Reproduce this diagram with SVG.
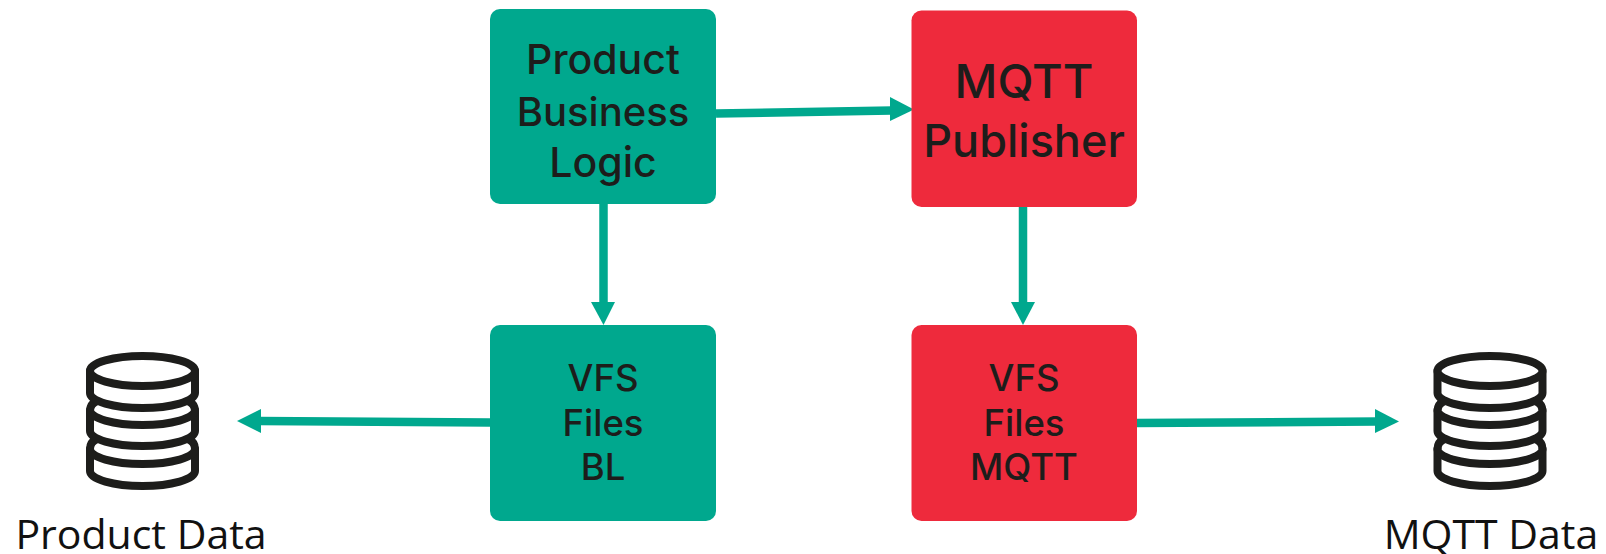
<svg xmlns="http://www.w3.org/2000/svg" width="1606" height="554" viewBox="0 0 1606 554">
<style>
.g{fill:#00a88e}.r{fill:#ee2a3c}
.t{font-family:"Inter","Noto Sans",sans-serif;font-weight:500;fill:#1d1d1b;text-anchor:middle}
.m{font-size:36.5px}
.l{font-family:"Open Sans","Noto Sans",sans-serif;font-size:41px;fill:#111;text-anchor:middle}
.c{stroke:#00a88e;stroke-width:8.5;fill:none}
.a{fill:#00a88e}
.d{fill:#fff;stroke:#1d1d1b;stroke-width:8;stroke-linecap:round;stroke-linejoin:round}
</style>
<defs>
<g id="db">
<path class="d" d="M-45.500 439Q-52.500 442-52.500 449V471A52.500 15 0 0 0 52.500 471V449Q52.500 442 45.500 439Z"/>
<path class="d" d="M-52.500 449A52.500 15 0 0 0 52.500 449"/>
<path class="d" d="M-45.500 401Q-52.500 404-52.500 411V431A52.500 15 0 0 0 52.500 431V411Q52.500 404 45.500 401Z"/>
<path class="d" d="M-52.500 410A52.500 15 0 0 0 52.500 410"/>
<path class="d" d="M-52.500 371V393A52.500 15 0 0 0 52.500 393V371Z"/>
<ellipse class="d" cx="0" cy="371" rx="52.500" ry="15"/>
</g>
</defs>
<g id="connectors">
<path class="c" d="M716 113.500L892 110.500"/><polygon class="a" points="890,97 914,109.500 890,121"/>
<path class="c" d="M603.500 204V304"/><polygon class="a" points="591,302 615,302 603.500,325"/>
<path class="c" d="M1023 206V304"/><polygon class="a" points="1011,302 1035,302 1023,325"/>
<path class="c" d="M490 422.500L259 421"/><polygon class="a" points="261,409 237,421 261,433"/>
<path class="c" d="M1136 423L1377 421.500"/><polygon class="a" points="1375,409 1399,421.500 1375,433"/>
</g>
<g id="bl"><rect class="g" x="490" y="9" width="226" height="195" rx="10"/>
<text class="t" font-size="41" x="603" y="74">Product</text><text class="t" font-size="40" x="603" y="126">Business</text><text class="t" font-size="41" x="603" y="177">Logic</text></g>
<g id="pub"><rect class="r" x="911.500" y="10.500" width="225.500" height="196.500" rx="10"/>
<text class="t" font-size="47" x="1024" y="98">MQTT</text><text class="t" font-size="45" x="1024" y="157">Publisher</text></g>
<g id="vfsbl"><rect class="g" x="490" y="325" width="226" height="196" rx="10"/>
<text class="t m" x="603" y="391">VFS</text><text class="t m" x="603" y="436">Files</text><text class="t m" x="603" y="480">BL</text></g>
<g id="vfsmqtt"><rect class="r" x="911.500" y="325" width="225.500" height="196" rx="10"/>
<text class="t m" x="1024" y="391">VFS</text><text class="t m" x="1024" y="436">Files</text><text class="t m" x="1024" y="480">MQTT</text></g>
<g id="product-data"><use href="#db" x="142.500"/><text class="l" x="141" y="549">Product Data</text></g>
<g id="mqtt-data"><use href="#db" x="1490"/><text class="l" x="1491" y="549">MQTT Data</text></g>
</svg>
